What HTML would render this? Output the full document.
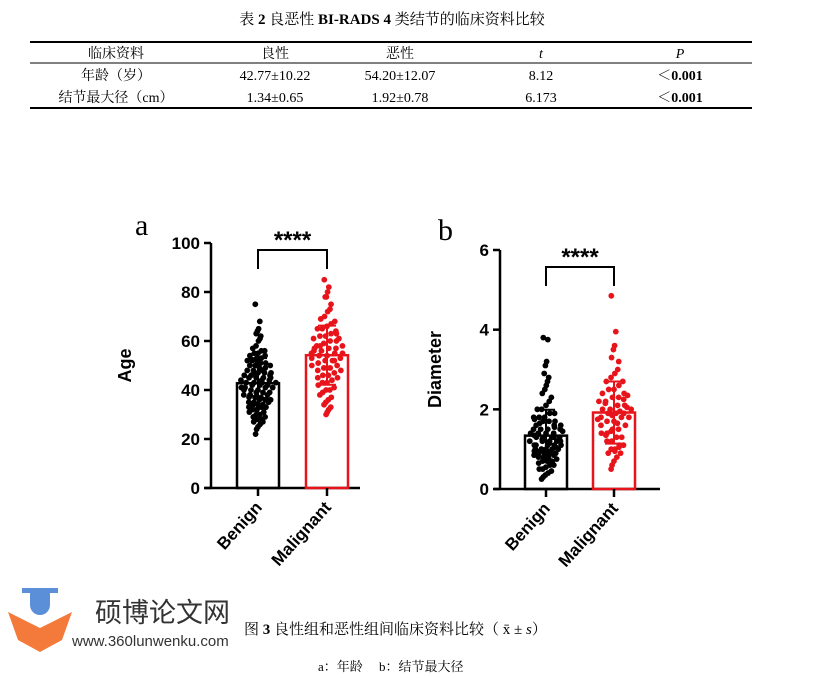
<!DOCTYPE html>
<html><head><meta charset="utf-8"><style>
body{margin:0;background:#fff;width:828px;height:678px;overflow:hidden;font-family:"Liberation Serif","Noto Serif CJK SC",serif}
svg{position:absolute;left:0;top:0}
</style></head><body>
<svg width="828" height="678" id="fig">
<g font-family="'Liberation Serif','Noto Serif CJK SC',serif" font-size="14" text-anchor="middle">
<text x="392" y="24" font-size="15">表 <tspan font-weight="bold">2</tspan> 良恶性 <tspan font-weight="bold">BI-RADS 4</tspan> 类结节的临床资料比较</text>
<line x1="30" y1="42" x2="752" y2="42" stroke="#000" stroke-width="2"/>
<line x1="30" y1="63" x2="752" y2="63" stroke="#000" stroke-width="1"/>
<line x1="30" y1="108" x2="752" y2="108" stroke="#000" stroke-width="2"/>
<g>
<text x="116" y="58">临床资料</text><text x="275" y="58">良性</text><text x="400" y="58">恶性</text><text x="541" y="58" font-style="italic">t</text><text x="680" y="58" font-style="italic">P</text></g>
<g>
<text x="116" y="80">年龄（岁）</text><text x="275" y="80">42.77±10.22</text><text x="400" y="80">54.20±12.07</text><text x="541" y="80">8.12</text><text x="680" y="80">＜<tspan font-weight="bold">0.001</tspan></text></g>
<g>
<text x="116" y="102">结节最大径（cm）</text><text x="275" y="102">1.34±0.65</text><text x="400" y="102">1.92±0.78</text><text x="541" y="102">6.173</text><text x="680" y="102">＜<tspan font-weight="bold">0.001</tspan></text></g>
</g>
<text x="135" y="235" font-size="30">a</text>
<text x="438" y="240" font-size="30">b</text>
<g id="pa"></g>
<g id="pb"></g>
<g>
<rect x="22" y="588" width="36" height="5" fill="#5b8fd8"/>
<path d="M30 593 v12 a10 10 0 0 0 20 0 v-12z" fill="#5b8fd8"/>
<path d="M8 612 L40 628 L72 612 L62 640 L40 652 L18 640z" fill="#f47a3c"/>
<text x="95" y="622" font-family="'Liberation Sans','Noto Sans CJK SC',sans-serif" font-size="27" fill="#333" text-anchor="start">硕博论文网</text>
<text x="72" y="646" font-family="'Liberation Sans',sans-serif" font-size="15" fill="#333">www.360lunwenku.com</text>
</g>
<text x="244" y="634" font-size="15">图 <tspan font-weight="bold">3</tspan>  良性组和恶性组间临床资料比较（ x̄ ± <tspan font-style="italic">s</tspan>）</text>
<text x="318" y="671" font-size="13">a：年龄　 b：结节最大径</text>
</svg>
<script>
const categories=["Benign","Malignant"];
const ageMeans=[42.77,54.20];
const ageSD=[10.22,12.07];
const ageBenign=[75,68,65,64,63,62,61,60,58,57,56,56,55,55,54,54,53,53,52,52,51,51,50,50,50,49,49,48,48,47,47,47,46,46,46,45,45,45,44,44,44,43,43,43,42,42,42,41,41,41,40,40,40,39,39,39,38,38,38,37,37,37,36,36,36,35,35,35,34,34,34,33,33,33,32,32,31,31,30,30,29,29,28,28,28,27,27,26,25,24,22,45,48,52,38,41,36,43,47,33];
const ageMalig=[85,82,80,78,78,75,73,72,70,69,68,67,66,65,65,64,63,62,62,61,60,60,59,58,58,57,57,56,56,55,55,54,54,53,53,52,52,51,50,50,49,49,48,48,47,46,46,45,45,44,43,43,42,41,40,40,39,38,37,36,35,34,33,32,31,30,57,61,52,49,58,55,63];
const diaMeans=[1.34,1.92];
const diaSD=[0.65,0.78];
const diaBenign=[3.8,3.75,3.2,3.1,2.9,2.8,2.7,2.6,2.5,2.4,2.3,2.2,2.1,2.0,2.0,1.9,1.9,1.8,1.8,1.8,1.7,1.7,1.7,1.6,1.6,1.6,1.5,1.5,1.5,1.5,1.4,1.4,1.4,1.4,1.3,1.3,1.3,1.3,1.2,1.2,1.2,1.2,1.1,1.1,1.1,1.1,1.0,1.0,1.0,1.0,1.0,0.95,0.95,0.9,0.9,0.9,0.9,0.85,0.85,0.8,0.8,0.8,0.75,0.7,0.7,0.7,0.65,0.6,0.6,0.55,0.5,0.5,0.45,0.4,0.35,0.3,0.25,1.05,1.15,1.25,1.35,1.45,1.55,0.95,1.0,1.1,1.2,1.3,0.85,1.65,1.75];
const diaMalig=[4.85,3.95,3.6,3.5,3.3,3.2,3.0,2.9,2.8,2.7,2.7,2.6,2.5,2.5,2.4,2.4,2.3,2.3,2.2,2.2,2.1,2.1,2.0,2.0,2.0,1.9,1.9,1.9,1.8,1.8,1.8,1.7,1.7,1.6,1.6,1.5,1.5,1.4,1.4,1.3,1.3,1.2,1.2,1.1,1.1,1.0,1.0,0.9,0.9,0.8,0.7,0.6,0.5,2.05,1.95,1.85,2.15,1.75,2.25,1.65,1.45,1.35,2.35,1.05,0.95];
const ageTicks=[0,20,40,60,80,100];
const diaTicks=[0,2,4,6];
const NS="http://www.w3.org/2000/svg";
function mk(p,t,a){const e=document.createElementNS(NS,t);for(const k in a)e.setAttribute(k,a[k]);p.appendChild(e);return e;}
function chart(g,cfg){
 const y=v=>cfg.y0-(v-cfg.min)/(cfg.max-cfg.min)*(cfg.y0-cfg.y1);
 const cols=["#000","#e8141b"];
 const ax=mk(g,"line",{x1:cfg.ax,y1:cfg.y1,x2:cfg.ax,y2:cfg.y0+1,stroke:"#000","stroke-width":2.5});
 
 
 const xa=mk(g,"line",{x1:cfg.ax-6,y1:cfg.y0,x2:cfg.xend,y2:cfg.y0,stroke:"#000","stroke-width":2.5});
 
 
 cfg.ticks.forEach(t=>{
  mk(g,"line",{x1:cfg.ax-7,x2:cfg.ax,y1:y(t),y2:y(t),stroke:"#000","stroke-width":2.5});
  const tl=mk(g,"text",{x:cfg.ax-11,y:y(t)+6,"text-anchor":"end","font-family":"Liberation Sans,sans-serif","font-weight":"bold","font-size":17});
  
  
  tl.textContent=t;
 });
 const yt=mk(g,"text",{transform:`translate(${cfg.titleX},${(cfg.y0+cfg.y1)/2}) rotate(-90)`,"text-anchor":"middle","font-family":"Liberation Sans,sans-serif","font-weight":"bold","font-size":18});
 
 
 yt.textContent=cfg.title;
 categories.forEach((c,i)=>{
  const cx=cfg.cx[i],col=cols[i];
  const b=mk(g,"rect",{x:cx-21,y:y(cfg.means[i]),width:42,height:cfg.y0-y(cfg.means[i]),fill:"none",stroke:col,"stroke-width":2.5});
  
  
  const pts=mk(g,"g",{fill:col});
  
  
  const m=cfg.means[i],s=cfg.sd[i];
  cfg.vals[i].forEach((v,j)=>{
   const z=Math.abs(v-m)/s;
   const w=Math.max(0.15,1-z*0.45);
   const off=(((j*53)%19)-9)*2.0*w;
   mk(pts,"circle",{cx:cx+off,cy:y(v),r:2.9});
  });
  const eb=mk(g,"path",{d:`M${cx} ${y(m-s)}V${y(m+s)}M${cx-9} ${y(m+s)}H${cx+9}M${cx-9} ${y(m-s)}H${cx+9}`,stroke:col,"stroke-width":2,fill:"none"});
  
  
  mk(g,"line",{x1:cx,x2:cx,y1:cfg.y0,y2:cfg.y0+8,stroke:"#000","stroke-width":2.5});
  const xl=mk(g,"text",{transform:`translate(${cx+5},${cfg.y0+20}) rotate(-48)`,"text-anchor":"end","font-family":"Liberation Sans,sans-serif","font-weight":"bold","font-size":17});
  
  
  xl.textContent=c;
 });
 const br=mk(g,"path",{d:`M${cfg.cx[0]} ${cfg.brY+19}V${cfg.brY}H${cfg.cx[1]}V${cfg.brY+19}`,stroke:"#000","stroke-width":2,fill:"none"});
 
 
 const st=mk(g,"text",{x:(cfg.cx[0]+cfg.cx[1])/2,y:cfg.brY-2,"text-anchor":"middle","font-family":"Liberation Sans,sans-serif","font-weight":"bold","font-size":24});
 
 
 st.textContent="****";
}
chart(document.getElementById("pa"),{ax:211,y0:488,y1:243,min:0,max:100,xend:360,ticks:ageTicks,title:"Age",titleX:131,cx:[258,327],means:ageMeans,sd:ageSD,vals:[ageBenign,ageMalig],brY:250});
chart(document.getElementById("pb"),{ax:500,y0:489,y1:250,min:0,max:6,xend:660,ticks:diaTicks,title:"Diameter",titleX:441,cx:[546,614],means:diaMeans,sd:diaSD,vals:[diaBenign,diaMalig],brY:267});
</script>
</body></html>
